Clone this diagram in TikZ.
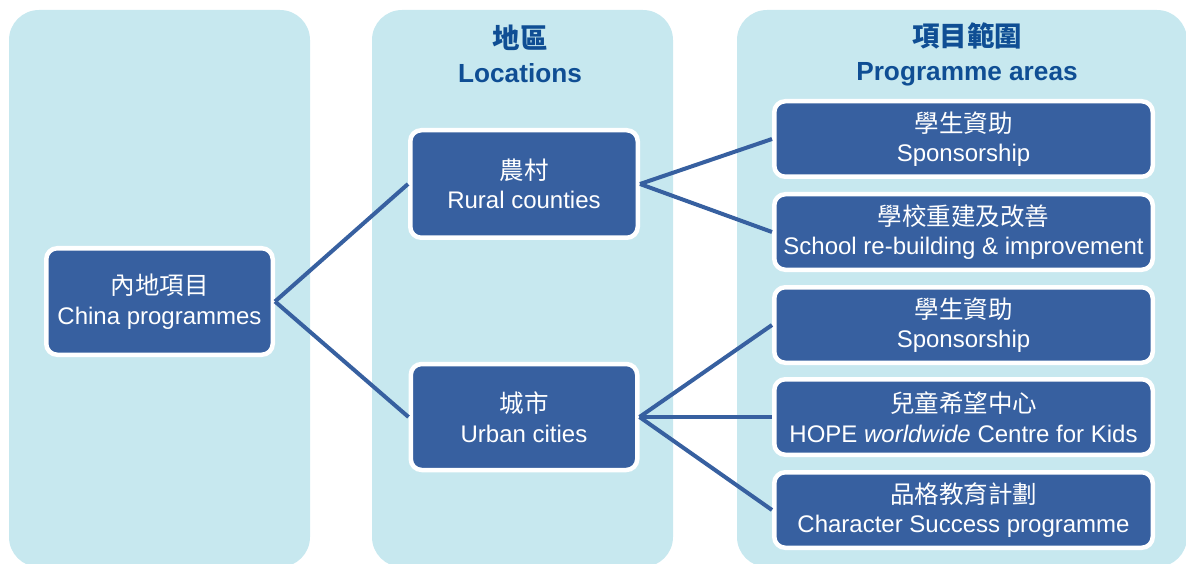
\documentclass[tikz,border=0pt]{standalone}
\usepackage{fontspec}
\setmainfont{Liberation Sans}
\newfontfamily\cjk{Noto Sans CJK TC}
\definecolor{panelblue}{RGB}{199,232,239}
\definecolor{boxblue}{RGB}{55,96,160}
\definecolor{headblue}{RGB}{15,78,148}
\tikzset{
  panel/.style={fill=panelblue, draw=none, rounded corners=30pt},
  prog/.style={fill=boxblue, draw=white, line width=4.5pt, rounded corners=11pt,
    text=white, align=center, inner sep=0pt,
    font=\fontsize{24}{29.5}\selectfont},
  head/.style={text=headblue, align=center, inner sep=0pt,
    font=\fontsize{26.2}{34}\selectfont\bfseries},
  link/.style={draw=boxblue, line width=4pt},
}
\begin{document}
\begin{tikzpicture}[x=1pt,y=-1pt]
\useasboundingbox (0,0) rectangle (1186,564);
\clip (0,0) rectangle (1186,564);
% panels
\path[panel] (9,10) rectangle (310,567);
\path[panel] (372,10) rectangle (673,567);
\path[panel] (737,10) rectangle (1187,567);
% headers
\node[head] (h2) at (520,54) {{\cjk\fontsize{27.5}{34}\selectfont 地區}\\Locations};
\node[head] (h3) at (967,54) {{\cjk\fontsize{27.5}{34}\selectfont 項目範圍}\\Programme areas};
% boxes
\node[prog, minimum width=226.5pt, minimum height=106.5pt] (china) at (159.5,301.5)
  {{\cjk\fontsize{24.5}{29.5}\selectfont 內地項目}\\China programmes};
\node[prog, minimum width=227.5pt, minimum height=107.5pt] (rural) at (524,184)
  {{\cjk\fontsize{24.5}{29.5}\selectfont 農村}\\Rural counties};
\node[prog, minimum width=226.5pt, minimum height=106pt] (urban) at (524,417)
  {{\cjk\fontsize{24.5}{29.5}\selectfont 城市}\\Urban cities};
\node[prog, minimum width=378.5pt, minimum height=75.5pt] (p1) at (963.5,139)
  {{\cjk\fontsize{24.5}{29.5}\selectfont 學生資助}\\Sponsorship};
\node[prog, minimum width=378.5pt, minimum height=75.5pt] (p2) at (963.5,232)
  {{\cjk\fontsize{24.5}{29.5}\selectfont 學校重建及改善}\\School re-building \& improvement};
\node[prog, minimum width=378.5pt, minimum height=75.5pt] (p3) at (963.5,325)
  {{\cjk\fontsize{24.5}{29.5}\selectfont 學生資助}\\Sponsorship};
\node[prog, minimum width=378.5pt, minimum height=75.5pt] (p4) at (963.5,417)
  {{\cjk\fontsize{24.5}{29.5}\selectfont 兒童希望中心}\\HOPE \textit{worldwide} Centre for Kids};
\node[prog, minimum width=378.5pt, minimum height=75.5pt] (p5) at (963.5,510)
  {{\cjk\fontsize{24.5}{29.5}\selectfont 品格教育計劃}\\Character Success programme};
% connectors
\draw[link] (china.east) -- (rural.west);
\draw[link] (china.east) -- (urban.west);
\draw[link] (rural.east) -- (p1.west);
\draw[link] (rural.east) -- (p2.west);
\draw[link] (urban.east) -- (p3.west);
\draw[link] (urban.east) -- (p4.west);
\draw[link] (urban.east) -- (p5.west);
\end{tikzpicture}
\end{document}
